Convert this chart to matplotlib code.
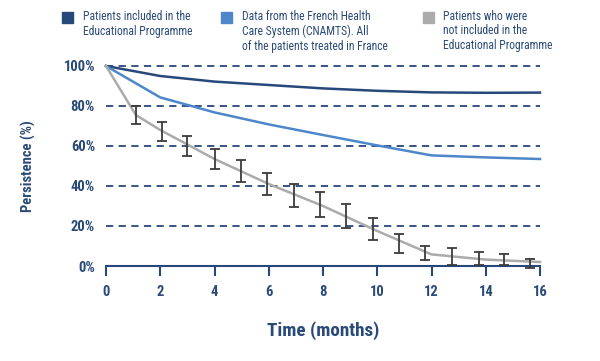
import matplotlib
matplotlib.use("Agg")
import matplotlib.pyplot as plt
from matplotlib.patches import Rectangle
from matplotlib import font_manager

# data
months_included = [0, 2, 4, 6, 8, 10, 12, 14, 16]
included = [100, 95, 92.2, 90.5, 88.8, 87.6, 86.8, 86.6, 86.7]

months_cnamts = [0, 2, 4, 6, 8, 10, 12, 14, 16]
cnamts = [100, 84.3, 76.8, 70.8, 65.5, 60.3, 55.3, 54.3, 53.5]

months_not = [0, 1.1, 2, 4, 6, 8, 10, 12, 14, 16]
not_included = [100, 75.5, 68, 53.5, 41, 30, 17.5, 5.8, 3.2, 2.0]

err_x = [1.1, 2.05, 3.0, 4.0, 4.98, 5.95, 6.93, 7.9, 8.85, 9.83, 10.8, 11.77, 12.74, 13.75, 14.67, 15.63]
err_lo = [71, 62.5, 54.8, 48.3, 42, 35.7, 29.7, 24.5, 19.2, 13, 6.7, 3, 0.5, 0.5, 0.5, -0.8]
err_hi = [80, 72.2, 65, 58.5, 53, 46.7, 40.8, 36.8, 31, 24, 16, 10.2, 9.2, 6.8, 6, 3.3]

legend_labels = [
    "Patients included in the\nEducational Programme",
    "Data from the French Health\nCare System (CNAMTS). All\nof the patients treated in France",
    "Patients who were\nnot included in the\nEducational Programme",
]

dark_blue = "#27487a"
mid_blue = "#4d87c9"
grey = "#ababab"
text_col = "#2a4a78"

names = {f.name for f in font_manager.fontManager.ttflist}
narrow = [n for n in ['Liberation Sans Narrow', 'Roboto Condensed', 'Open Sans Condensed'] if n in names]
plt.rcParams['font.family'] = narrow + ['DejaVu Sans']
plt.rcParams['font.stretch'] = 'condensed'

fig = plt.figure(figsize=(6, 3.61), dpi=100)
ax = fig.add_axes([106 / 600, 1 - 266 / 361, 434 / 600, 200 / 361])

for g in [20, 40, 60, 80, 100]:
    ax.plot([0, 16], [g, g], color=dark_blue, lw=1.3, dashes=(4, 3), clip_on=False, zorder=1)

ax.plot(months_included, included, color=dark_blue, lw=1.8, clip_on=False, zorder=3)
ax.plot(months_cnamts, cnamts, color=mid_blue, lw=1.8, clip_on=False, zorder=3)
ax.plot(months_not, not_included, color=grey, lw=1.8, clip_on=False, zorder=3)

mid = [(a + b) / 2 for a, b in zip(err_lo, err_hi)]
half = [(b - a) / 2 for a, b in zip(err_lo, err_hi)]
ax.errorbar(err_x, mid, yerr=half, fmt='none', ecolor="#3c3c3c", elinewidth=1.3,
            capsize=3.5, capthick=1.3, clip_on=False, zorder=4)

ax.set_xlim(0, 16)
ax.set_ylim(0, 100)
for s in ['top', 'right', 'left']:
    ax.spines[s].set_visible(False)
ax.spines['bottom'].set_color(dark_blue)
ax.spines['bottom'].set_linewidth(1.5)
ax.spines['bottom'].set_zorder(2)

ax.set_xticks(range(0, 17, 2))
ax.set_yticks([0, 20, 40, 60, 80, 100])
ax.set_yticklabels(["0%", "20%", "40%", "60%", "80%", "100%"])
ax.tick_params(axis='x', direction='out', length=7, width=1.5, color=dark_blue,
               labelcolor=text_col, labelsize=10.5, pad=7)
ax.tick_params(axis='y', length=0, labelcolor=text_col, labelsize=10.5, pad=8)
for lab in ax.get_xticklabels() + ax.get_yticklabels():
    lab.set_fontweight('bold')

ax.set_xlabel("Time (months)", color=text_col, fontsize=13.8, fontweight='bold', labelpad=16)
ax.set_ylabel("Persistence (%)", color=text_col, fontsize=10.5, fontweight='bold', labelpad=20)

# legend drawn by hand at the top
square_x = [62, 221, 423]
text_x = [83, 242, 443]
for sx, tx, col, lab in zip(square_x, text_x, [dark_blue, mid_blue, grey], legend_labels):
    fig.patches.append(Rectangle((sx / 600, 1 - 23 / 361), 11 / 600, 11 / 361,
                                 transform=fig.transFigure, color=col))
    fig.text(tx / 600, 1 - 10 / 361, lab, ha='left', va='top',
             color=text_col, fontsize=8.4, linespacing=1.15)

fig.savefig("out.png", dpi=100)
